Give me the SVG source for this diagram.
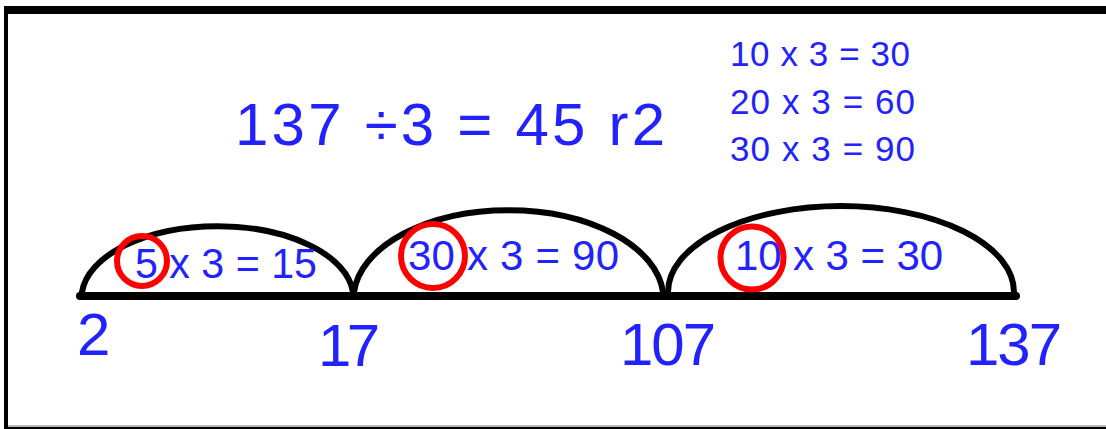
<svg xmlns="http://www.w3.org/2000/svg" width="1106" height="429" viewBox="0 0 1106 429">
<style>
.t{font-family:"Liberation Sans","Noto Sans",sans-serif;fill:#2222ff}
.arc{fill:none;stroke:#000;stroke-width:6;stroke-linecap:round}
.ring{fill:none;stroke:#ff0000;stroke-width:6}
</style>
<rect x="0" y="0" width="1106" height="429" fill="#fff"/>
<g id="frame">
<rect x="4" y="6" width="1102" height="8" fill="#000"/>
<rect x="4" y="6" width="4" height="423" fill="#000"/>
<rect x="8" y="425" width="1098" height="2" fill="#bbbbbb"/>
<rect x="4" y="427" width="1102" height="2" fill="#000"/>
</g>
<g id="title">
<text class="t" x="235" y="145" font-size="60" textLength="430" lengthAdjust="spacing">137 ÷3 = 45 r2</text>
</g>
<g id="facts">
<text class="t" x="730" y="66" font-size="35" textLength="180" lengthAdjust="spacing">10 x 3 = 30</text>
<text class="t" x="730" y="114" font-size="35" textLength="185" lengthAdjust="spacing">20 x 3 = 60</text>
<text class="t" x="730" y="161" font-size="35" textLength="185" lengthAdjust="spacing">30 x 3 = 90</text>
</g>
<g id="connectors">
<line x1="80" y1="296" x2="1016" y2="296" stroke="#000" stroke-width="8" stroke-linecap="round"/>
<path class="arc" d="M 82 292 A 136 72 0 0 1 353 292"/>
<path class="arc" d="M 354 292 A 155 89 0 0 1 663 292"/>
<path class="arc" d="M 668 292 A 173 86 0 0 1 1014 292"/>
</g>
<g id="jump1">
<text class="t" x="135" y="278" font-size="42" textLength="182" lengthAdjust="spacingAndGlyphs">5 x 3 = 15</text>
<circle class="ring" cx="142" cy="261" r="25"/>
</g>
<g id="jump2">
<text class="t" x="408" y="270" font-size="42" textLength="211" lengthAdjust="spacing">30 x 3 = 90</text>
<circle class="ring" cx="433" cy="256" r="32"/>
</g>
<g id="jump3">
<text class="t" x="735" y="270" font-size="42" textLength="208" lengthAdjust="spacing">10 x 3 = 30</text>
<circle class="ring" cx="752" cy="258" r="31.5"/>
</g>
<g id="labels">
<text class="t" x="77" y="355" font-size="60">2</text>
<text class="t" x="318" y="366" font-size="60" textLength="62" lengthAdjust="spacing">17</text>
<text class="t" x="620" y="365" font-size="60" textLength="96" lengthAdjust="spacing">107</text>
<text class="t" x="966" y="365" font-size="60" textLength="96" lengthAdjust="spacing">137</text>
</g>
</svg>
